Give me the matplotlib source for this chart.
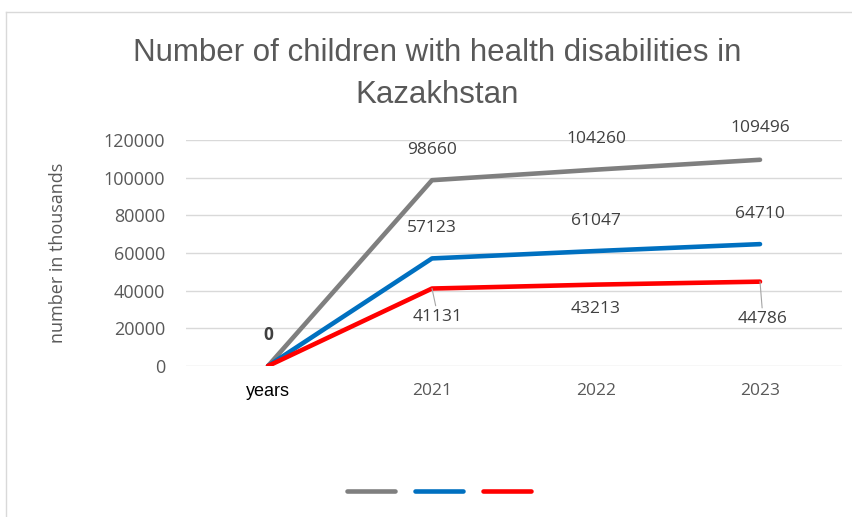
import matplotlib.pyplot as plt
from matplotlib.lines import Line2D

# data
categories = ['years', '2021', '2022', '2023']
total = [0, 98660, 104260, 109496]
group_a = [0, 57123, 61047, 64710]
group_b = [0, 41131, 43213, 44786]
yticks = [0, 20000, 40000, 60000, 80000, 100000, 120000]

gray_txt = '#595959'
colors = ['#7f7f7f', '#0070c0', '#ff0000']

fig = plt.figure(figsize=(8.53, 5.17), dpi=100)
ax = fig.add_axes([186/853, 1 - 366/517, (842 - 186)/853, (366 - 140)/517])

x = list(range(len(categories)))
for ys, c in zip([total, group_a, group_b], colors):
    ax.plot(x, ys, color=c, lw=3.3, solid_capstyle='round', solid_joinstyle='round', zorder=3)

ax.set_xlim(-0.5, 3.5)
ax.set_ylim(0, 120000)
ax.set_yticks(yticks)
ax.set_yticklabels([str(v) for v in yticks], fontfamily='Open Sans', fontsize=13, color=gray_txt)
ax.set_xticks(x)
ax.set_xticklabels(categories, fontfamily='Open Sans', fontsize=12.5, color=gray_txt)
xl = ax.get_xticklabels()
xl[0].set_fontfamily('Liberation Sans')
xl[0].set_color('black')
xl[0].set_fontsize(13)
ax.tick_params(axis='y', length=0, pad=15)
ax.tick_params(axis='x', length=0, pad=12)
ax.grid(axis='y', color='#d9d9d9', lw=1)
ax.set_axisbelow(True)
for s in ax.spines.values():
    s.set_visible(False)

lab = dict(fontfamily='Open Sans', fontsize=12.5, color='#404040', ha='center', va='center')
ax.annotate('0', (0, 0), xytext=(0, 31), textcoords='offset pixels',
            fontweight='bold', **lab)
for i in range(1, 4):
    ax.annotate(str(total[i]), (i, total[i]), xytext=(0, 29 + i), textcoords='offset pixels', **lab)
    ax.annotate(str(group_a[i]), (i, group_a[i]), xytext=(0, 30), textcoords='offset pixels', **lab)
red_off = {1: (6, -28), 2: (0, -24), 3: (3, -37)}
for i in range(1, 4):
    dx, dy = red_off[i]
    arrow = dict(arrowstyle='-', color='#a6a6a6', lw=0.8, shrinkA=0, shrinkB=0) if i != 2 else None
    ax.annotate(str(group_b[i]), (i, group_b[i]), xytext=(dx, dy), textcoords='offset pixels',
                arrowprops=arrow, **lab)

ax.set_ylabel('number in thousands', fontfamily='Open Sans', fontsize=13, color=gray_txt)
ax.yaxis.set_label_coords(-(186 - 67)/656, 0.5)

fig.text(437/853, 1 - 74/517, 'Number of children with health disabilities in\nKazakhstan',
         ha='center', va='center', fontfamily='Liberation Sans', fontsize=22.5, color=gray_txt,
         linespacing=1.55)

handles = [Line2D([], [], color=c, lw=3.3, solid_capstyle='round') for c in colors]
fig.legend(handles, ['', '', ''], loc='center', bbox_to_anchor=(439/853, 1 - 492/517),
           ncol=3, frameon=False, fontsize=10, handlelength=3.4, handletextpad=0,
           columnspacing=1.5)

# chart frame (top and left edges)
fig.add_artist(Line2D([6/853, 1], [1 - 12/517, 1 - 12/517], color='#d9d9d9', lw=1))
fig.add_artist(Line2D([6/853, 6/853], [0, 1 - 12/517], color='#d9d9d9', lw=1))

fig.savefig('out.png', dpi=100)
